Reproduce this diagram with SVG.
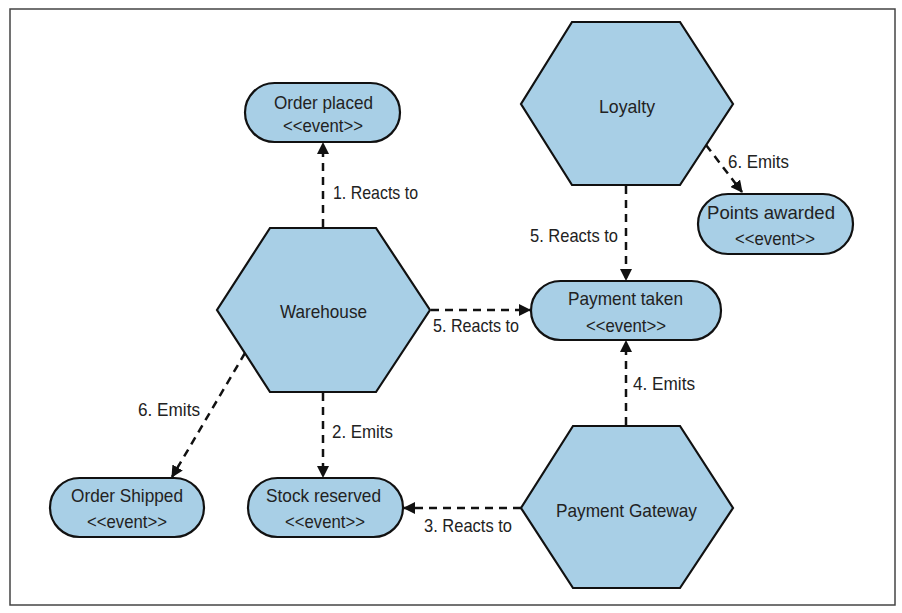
<svg xmlns="http://www.w3.org/2000/svg" width="902" height="613" viewBox="0 0 902 613">
<style>
.hex{fill:#a8cfe6;stroke:#111;stroke-width:2.2;stroke-linejoin:miter}
.pill{fill:#a8cfe6;stroke:#111;stroke-width:2.2}
.t{font-family:"Liberation Sans",Arial,sans-serif;font-size:19px;fill:#222}
.c{text-anchor:middle}
.e{text-anchor:end}
.conn{fill:none;stroke:#111;stroke-width:2.5;stroke-dasharray:8 6}
</style>
<defs>
<marker id="ah" markerUnits="userSpaceOnUse" markerWidth="12" markerHeight="12" viewBox="0 0 12 12" refX="11" refY="6" orient="auto">
<path d="M0,0 L12,6 L0,12 z" fill="#111"/>
</marker>
</defs>
<rect x="10" y="9" width="885" height="596" fill="#fff" stroke="#444" stroke-width="1.5"/>
<g id="connectors">
<line class="conn" x1="323" y1="227" x2="323" y2="143" marker-end="url(#ah)"/>
<line class="conn" x1="323" y1="393" x2="323" y2="477" marker-end="url(#ah)"/>
<line class="conn" x1="245" y1="353" x2="172" y2="477" marker-end="url(#ah)"/>
<line class="conn" x1="431" y1="310" x2="530" y2="310" marker-end="url(#ah)"/>
<line class="conn" x1="521" y1="508" x2="404" y2="508" marker-end="url(#ah)"/>
<line class="conn" x1="626" y1="425" x2="626" y2="341" marker-end="url(#ah)"/>
<line class="conn" x1="626" y1="186" x2="626" y2="280" marker-end="url(#ah)"/>
<line class="conn" x1="706" y1="145" x2="742" y2="192" marker-end="url(#ah)"/>
<text class="t" x="333" y="199" textLength="85" lengthAdjust="spacingAndGlyphs">1. Reacts to</text>
<text class="t" x="332" y="438" textLength="61" lengthAdjust="spacingAndGlyphs">2. Emits</text>
<text class="t" x="138" y="416" textLength="62" lengthAdjust="spacingAndGlyphs">6. Emits</text>
<text class="t" x="433" y="332" textLength="86" lengthAdjust="spacingAndGlyphs">5. Reacts to</text>
<text class="t" x="424" y="532" textLength="88" lengthAdjust="spacingAndGlyphs">3. Reacts to</text>
<text class="t" x="633" y="390" textLength="62" lengthAdjust="spacingAndGlyphs">4. Emits</text>
<text class="t" x="530" y="242" textLength="88" lengthAdjust="spacingAndGlyphs">5. Reacts to</text>
<text class="t" x="728" y="168" textLength="61" lengthAdjust="spacingAndGlyphs">6. Emits</text>
</g>
<g id="warehouse">
<polygon class="hex" points="270,228 376,228 430,310 376,392 270,392 217,310"/>
<text class="t" x="280" y="318" textLength="87" lengthAdjust="spacingAndGlyphs">Warehouse</text>
</g>
<g id="loyalty">
<polygon class="hex" points="572,22 680,22 733,104 680,185 572,185 521,104"/>
<text class="t" x="599" y="113" textLength="56" lengthAdjust="spacingAndGlyphs">Loyalty</text>
</g>
<g id="payment-gateway">
<polygon class="hex" points="573,426 680,426 733,508 680,588 573,588 521,508"/>
<text class="t" x="556" y="517" textLength="141" lengthAdjust="spacingAndGlyphs">Payment Gateway</text>
</g>
<g id="order-placed">
<rect class="pill" x="245" y="83" width="155" height="59" rx="29.5"/>
<text class="t" x="274" y="109" textLength="99" lengthAdjust="spacingAndGlyphs">Order placed</text>
<text class="t" x="283" y="132" textLength="80" lengthAdjust="spacingAndGlyphs">&lt;&lt;event&gt;&gt;</text>
</g>
<g id="points-awarded">
<rect class="pill" x="698" y="194" width="155" height="60" rx="30"/>
<text class="t" x="707" y="219" textLength="128" lengthAdjust="spacingAndGlyphs">Points awarded</text>
<text class="t" x="735" y="245" textLength="80" lengthAdjust="spacingAndGlyphs">&lt;&lt;event&gt;&gt;</text>
</g>
<g id="payment-taken">
<rect class="pill" x="531" y="281" width="190" height="59" rx="29.5"/>
<text class="t" x="568" y="305" textLength="115" lengthAdjust="spacingAndGlyphs">Payment taken</text>
<text class="t" x="586" y="332" textLength="80" lengthAdjust="spacingAndGlyphs">&lt;&lt;event&gt;&gt;</text>
</g>
<g id="order-shipped">
<rect class="pill" x="50" y="478" width="154" height="59" rx="29.5"/>
<text class="t" x="71" y="502" textLength="112" lengthAdjust="spacingAndGlyphs">Order Shipped</text>
<text class="t" x="87" y="528" textLength="80" lengthAdjust="spacingAndGlyphs">&lt;&lt;event&gt;&gt;</text>
</g>
<g id="stock-reserved">
<rect class="pill" x="248" y="478" width="155" height="59" rx="29.5"/>
<text class="t" x="266" y="502" textLength="115" lengthAdjust="spacingAndGlyphs">Stock reserved</text>
<text class="t" x="285" y="528" textLength="80" lengthAdjust="spacingAndGlyphs">&lt;&lt;event&gt;&gt;</text>
</g>
</svg>
